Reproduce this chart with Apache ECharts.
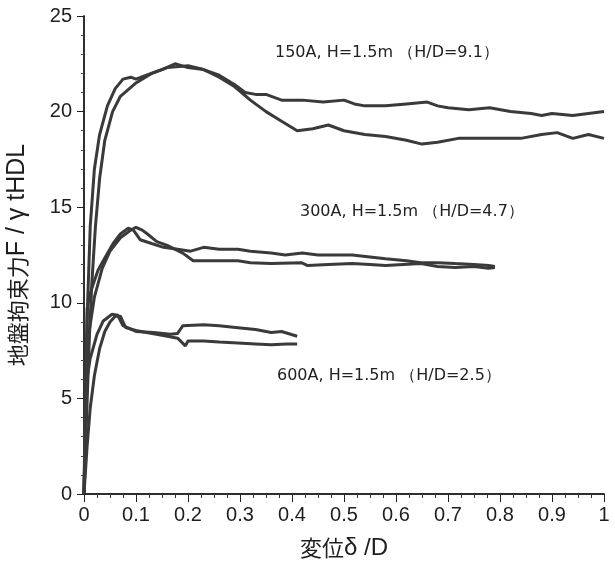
<!DOCTYPE html>
<html>
<head>
<meta charset="utf-8">
<script src="https://cdn.jsdelivr.net/npm/echarts@6/dist/echarts.min.js"></script>
<style>
  html, body { margin: 0; padding: 0; background: #fff; }
  #main { width: 615px; height: 562px; }
</style>
</head>
<body>
<div id="main"></div>
<script>
// 変位 δ/D と 地盤拘束力 の読み取り値 [x, y]
var curve150a = [[0,0],[0.003,5],[0.007,10],[0.012,14],[0.02,17],[0.03,18.8],[0.045,20.3],[0.06,21.2],[0.075,21.7],[0.09,21.8],[0.1,21.7],[0.12,21.9],[0.15,22.2],[0.175,22.5],[0.2,22.3],[0.23,22.2],[0.26,21.9],[0.29,21.4],[0.31,21.0],[0.33,20.9],[0.35,20.9],[0.38,20.6],[0.42,20.6],[0.46,20.5],[0.5,20.6],[0.52,20.4],[0.54,20.3],[0.58,20.3],[0.62,20.4],[0.66,20.5],[0.68,20.3],[0.7,20.2],[0.74,20.1],[0.78,20.2],[0.82,20.0],[0.86,19.9],[0.88,19.8],[0.9,19.9],[0.94,19.8],[0.97,19.9],[1.0,20.0]];
var curve150b = [[0,0],[0.005,4],[0.01,8],[0.015,11],[0.022,14],[0.03,16.5],[0.04,18.5],[0.055,20],[0.07,20.8],[0.1,21.5],[0.13,22],[0.16,22.3],[0.2,22.4],[0.23,22.2],[0.26,21.8],[0.29,21.3],[0.32,20.6],[0.35,20.0],[0.38,19.5],[0.41,19.0],[0.44,19.1],[0.47,19.3],[0.5,19.0],[0.54,18.8],[0.58,18.7],[0.62,18.5],[0.65,18.3],[0.68,18.4],[0.72,18.6],[0.76,18.6],[0.8,18.6],[0.84,18.6],[0.88,18.8],[0.91,18.9],[0.94,18.6],[0.97,18.8],[1.0,18.6]];
var curve300a = [[0,0],[0.002,4],[0.006,9.7],[0.012,10.5],[0.018,11],[0.027,11.7],[0.037,12.2],[0.056,13.1],[0.07,13.6],[0.085,13.9],[0.095,13.8],[0.108,13.3],[0.13,13.1],[0.153,12.9],[0.18,12.8],[0.205,12.7],[0.23,12.9],[0.26,12.8],[0.296,12.8],[0.32,12.7],[0.36,12.6],[0.387,12.5],[0.42,12.6],[0.45,12.5],[0.516,12.5],[0.55,12.4],[0.58,12.3],[0.62,12.2],[0.648,12.1],[0.68,12.1],[0.714,12.05],[0.75,12.0],[0.778,11.95],[0.79,11.9]];
var curve300b = [[0,0],[0.004,5],[0.01,8.5],[0.02,10.3],[0.035,11.8],[0.05,12.7],[0.07,13.4],[0.09,13.8],[0.1,13.95],[0.112,13.8],[0.122,13.6],[0.14,13.2],[0.16,13.0],[0.19,12.6],[0.21,12.2],[0.25,12.2],[0.296,12.2],[0.32,12.1],[0.36,12.05],[0.418,12.1],[0.43,11.95],[0.47,12.0],[0.516,12.05],[0.55,12.0],[0.58,11.95],[0.648,12.05],[0.68,11.9],[0.714,11.85],[0.75,11.9],[0.778,11.8],[0.79,11.85]];
var curve600a = [[0,0],[0.003,4],[0.006,6.05],[0.012,7.1],[0.025,8.35],[0.037,9.05],[0.054,9.4],[0.065,9.35],[0.075,8.8],[0.1,8.5],[0.134,8.45],[0.166,8.35],[0.18,8.4],[0.19,8.8],[0.23,8.85],[0.26,8.8],[0.296,8.7],[0.33,8.6],[0.36,8.45],[0.38,8.5],[0.41,8.25]];
var curve600b = [[0,0],[0.006,2.5],[0.012,4.5],[0.02,6.2],[0.03,7.6],[0.04,8.5],[0.05,9.0],[0.06,9.3],[0.07,9.3],[0.08,8.7],[0.1,8.55],[0.12,8.45],[0.15,8.3],[0.18,8.15],[0.195,7.75],[0.2,8.0],[0.23,8.0],[0.26,7.95],[0.296,7.9],[0.33,7.85],[0.36,7.8],[0.39,7.85],[0.41,7.85]];
var xTicks = [0, 0.1, 0.2, 0.3, 0.4, 0.5, 0.6, 0.7, 0.8, 0.9, 1];
var yTicks = [0, 5, 10, 15, 20, 25];
var caseLabels = ['150A, H=1.5m （H/D=9.1）', '300A, H=1.5m （H/D=4.7）', '600A, H=1.5m （H/D=2.5）'];

var chart = echarts.init(document.getElementById('main'));
var lineColor = '#3a3a3a';
var font = 'Liberation Sans, Arial, sans-serif';
var jp = 'Noto Sans CJK JP';

function makeSeries(d) {
  return {
    type: 'line',
    data: d,
    showSymbol: false,
    smooth: false,
    lineStyle: { color: lineColor, width: 3 },
    silent: true,
    animation: false
  };
}

var option = {
  animation: false,
  grid: { left: 84, right: 11, top: 16, bottom: 68, outerBoundsMode: 'none', containLabel: false },
  xAxis: [{
    type: 'value', min: 0, max: 1, interval: 0.1,
    axisLine: { lineStyle: { color: '#222', width: 1.5 } },
    axisTick: { inside: false, length: 8, lineStyle: { color: '#222' } },
    minorTick: { show: true, splitNumber: 4, length: 4, lineStyle: { color: '#333' } },
    splitLine: { show: false },
    axisLabel: {
      color: '#1e1e1e', fontSize: 20, fontFamily: font, margin: 11,
      formatter: function (v) {
        var s = Math.round(v * 10) / 10;
        return xTicks.indexOf(s) >= 0 ? String(s) : '';
      }
    },
    name: '変位{l|δ /D}', nameLocation: 'middle', nameGap: 42,
    nameTextStyle: {
      color: '#1e1e1e', fontSize: 22, fontFamily: jp,
      rich: { l: { fontSize: 24, fontFamily: font, color: '#1e1e1e' } }
    }
  }, {
    type: 'value', min: 0, max: 1, position: 'top',
    axisLine: { show: true, lineStyle: { color: '#222', width: 1.5 } },
    axisTick: { show: false }, axisLabel: { show: false }, splitLine: { show: false }
  }],
  yAxis: [{
    type: 'value', min: 0, max: 25, interval: 5,
    axisLine: { show: true, lineStyle: { color: '#222', width: 1.5 } },
    axisTick: { show: true, inside: false, length: 7, lineStyle: { color: '#222' } },
    minorTick: { show: true, splitNumber: 5, length: 3, lineStyle: { color: '#444' } },
    splitLine: { show: false },
    axisLabel: {
      color: '#1e1e1e', fontSize: 20, fontFamily: font, margin: 12,
      formatter: function (v) { return yTicks.indexOf(v) >= 0 ? String(v) : ''; }
    },
    name: '地盤拘束力{l|F / γ tHDL}', nameLocation: 'middle', nameGap: 54, nameRotate: 90,
    nameTextStyle: {
      color: '#1e1e1e', fontSize: 22, fontFamily: jp,
      rich: { l: { fontSize: 25, fontFamily: font, color: '#1e1e1e' } }
    }
  }, {
    type: 'value', min: 0, max: 25, position: 'right',
    axisLine: { show: true, lineStyle: { color: '#222', width: 1.5 } },
    axisTick: { show: false }, axisLabel: { show: false }, splitLine: { show: false }
  }],
  graphic: [
    { type: 'text', left: 275, top: 45, style: { text: caseLabels[0], fontSize: 16, fontFamily: 'DejaVu Sans', fill: '#222' } },
    { type: 'text', left: 300, top: 204, style: { text: caseLabels[1], fontSize: 16, fontFamily: 'DejaVu Sans', fill: '#222' } },
    { type: 'text', left: 277, top: 368, style: { text: caseLabels[2], fontSize: 16, fontFamily: 'DejaVu Sans', fill: '#222' } }
  ],
  series: [curve150a, curve150b, curve300a, curve300b, curve600a, curve600b].map(makeSeries)
};

chart.setOption(option);
</script>
</body>
</html>
